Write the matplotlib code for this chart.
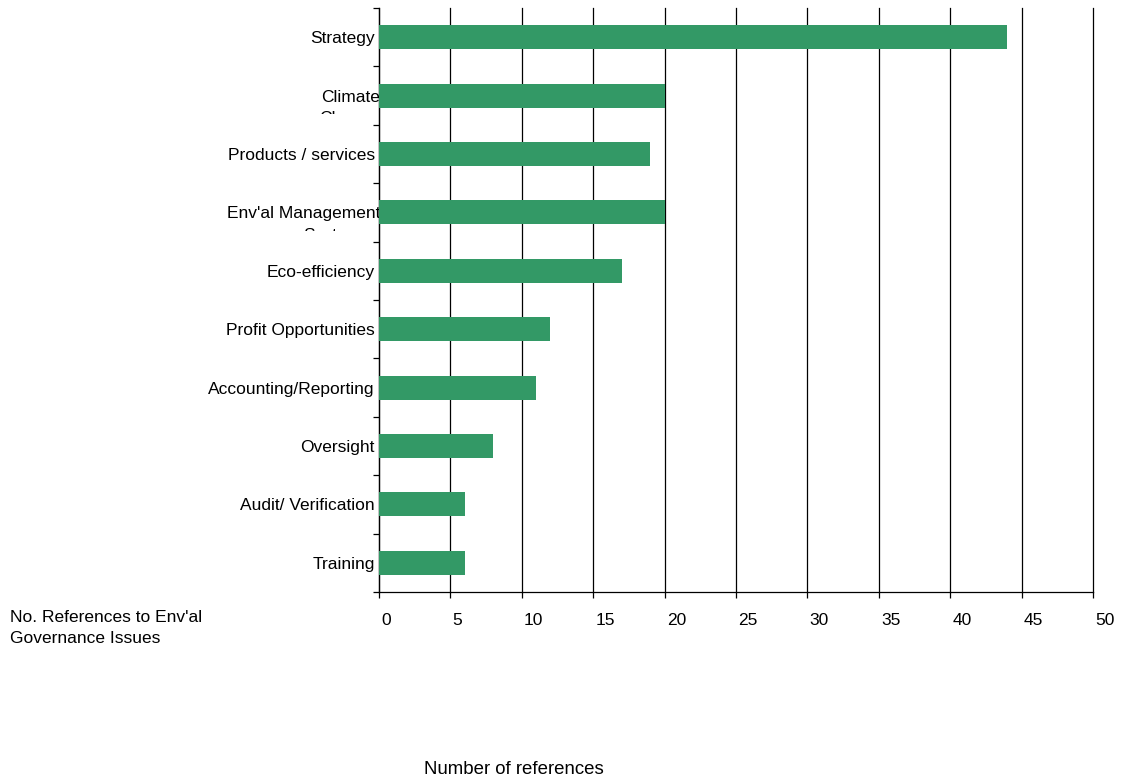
import matplotlib
matplotlib.use("Agg")
import matplotlib.pyplot as plt
import matplotlib.transforms as mtransforms
import numpy as np

plt.rcParams['font.family'] = ['Liberation Sans', 'DejaVu Sans']

# --- data (top to bottom) ---
categories = ["Strategy", "Climate", "Products / services", "Env'al Management",
              "Eco-efficiency", "Profit Opportunities", "Accounting/Reporting",
              "Oversight", "Audit/ Verification", "Training"]
second_lines = {"Climate": "Change", "Env'al Management": "Systems"}
references = [44, 20, 19, 20, 17, 12, 11, 8, 6, 6]
x_ticks = [0, 5, 10, 15, 20, 25, 30, 35, 40, 45, 50]

bar_color = "#339966"
fs = 12.5

fig = plt.figure(figsize=(11.32, 7.81), dpi=100)
ax = fig.add_axes([379 / 1132, 1 - 592 / 781, 714 / 1132, 584 / 781])

y = np.arange(len(categories))
ax.barh(y, references, height=0.41, color=bar_color, zorder=3)

ax.set_xlim(0, 50)
ax.set_ylim(len(categories) - 0.5, -0.5)
ax.set_xticks(x_ticks)
ax.set_xticklabels([str(t) for t in x_ticks], fontsize=fs)
ax.xaxis.grid(True, color="black", linewidth=0.9)
ax.set_axisbelow(True)
for gl in ax.xaxis.get_gridlines():
    gl.set_clip_on(False)

# category labels at centres, ticks at boundaries
ax.set_yticks(y)
ax.set_yticklabels(categories, fontsize=fs)
ax.set_yticks(np.arange(len(categories) + 1) - 0.5, minor=True)
ax.tick_params(axis="y", which="major", length=0, pad=3)
ax.tick_params(axis="y", which="minor", length=4, width=0.9, direction="out")
ax.tick_params(axis="x", length=4, width=0.9, direction="out", pad=11)

for lbl in ax.get_xticklabels():
    lbl.set_ha("left")
    lbl.set_transform(lbl.get_transform() +
                      mtransforms.ScaledTranslation(1.5 / 72, 0, fig.dpi_scale_trans))

# wrapped labels sit a touch further right in the original
for lbl in ax.get_yticklabels():
    if lbl.get_text() in second_lines:
        lbl.set_transform(lbl.get_transform() +
                          mtransforms.ScaledTranslation(4 / 72, 0, fig.dpi_scale_trans))

for s in ["top", "right"]:
    ax.spines[s].set_visible(False)
ax.spines["left"].set_linewidth(0.9)
ax.spines["bottom"].set_linewidth(0.9)

# wrapped labels: second line clipped like the original
blend = mtransforms.blended_transform_factory(fig.transFigure, ax.transData)
second_x = {"Climate": 350 / 1132, "Env'al Management": 337 / 1132}
for i, cat in enumerate(categories):
    if cat in second_lines:
        t = fig.text(second_x[cat], i + 0.39, second_lines[cat], transform=blend,
                     ha="center", va="center", fontsize=fs)
        clip = mtransforms.TransformedBbox(
            mtransforms.Bbox([[0, i - 0.5], [379 / 1132, i + 0.31]]), blend)
        t.set_clip_box(clip)
        t.set_clip_on(True)

fig.text(10 / 1132, 1 - 610 / 781, "No. References to Env'al\nGovernance Issues",
         ha="left", va="top", fontsize=fs, linespacing=1.5)
fig.text(514 / 1132, 1 - 770 / 781, "Number of references",
         ha="center", va="center", fontsize=13.4)

fig.savefig("out.png", dpi=100)
